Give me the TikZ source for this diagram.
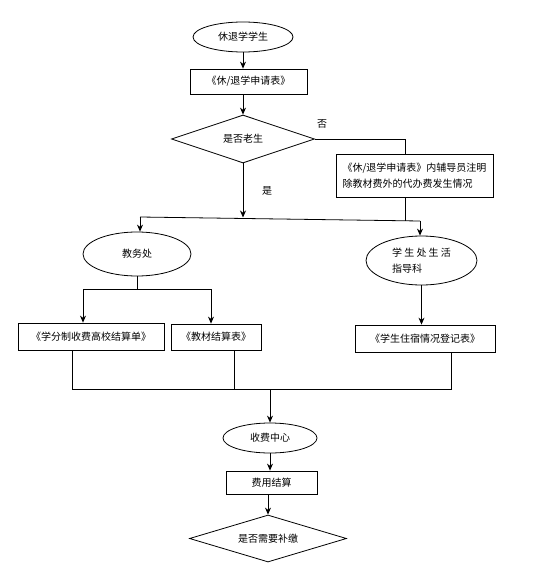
\documentclass[tikz,border=0pt]{standalone}
\usepackage{fontspec}
\newfontfamily\cjk{Noto Sans CJK SC}
\usetikzlibrary{shapes.geometric,arrows.meta}

\begin{document}
\begin{tikzpicture}[x=1pt, y=-1pt, line width=0.8pt, >={Stealth[length=7pt,width=6pt]},
    every node/.style={font=\cjk\fontsize{10}{16}\selectfont, inner sep=0pt},
    oval/.style={draw, ellipse},
    sheet/.style={draw, rectangle},
    ask/.style={draw, diamond, aspect=3}]

    \useasboundingbox (0,0) rectangle (539,572);

    % top part
    \node [oval, minimum width=100, minimum height=30] (start) at (243,37) {休退学学生};
    \node [sheet, minimum width=117, minimum height=25] (form) at (248.5,81.5) {《休/退学申请表》};
    \node [ask, minimum width=143, minimum height=48] (old) at (243,139) {是否老生};
    \node [sheet, minimum width=157, minimum height=43, align=left] (note) at (414.5,175.5)
        {《休/退学申请表》内辅导员注明\\除教材费外的代办费发生情况};

    % labels yes / no
    \node (no) at (322,124) {否};
    \node (yes) at (267,191) {是};

    % offices
    \node [oval, minimum width=108, minimum height=44] (jwc) at (137,254) {教务处};
    \node [oval, minimum width=111, minimum height=49, align=left] (xsc) at (421.5,260.5)
        {学 生 处 生 活\\指导科};

    % forms
    \node [sheet, minimum width=146, minimum height=27] (box1) at (91,336.5) {《学分制收费高校结算单》};
    \node [sheet, minimum width=90, minimum height=26] (box2) at (216,337) {《教材结算表》};
    \node [sheet, minimum width=140, minimum height=27] (box3) at (425,338.5) {《学生住宿情况登记表》};

    % bottom part
    \node [oval, minimum width=94, minimum height=30] (fee) at (270,438) {收费中心};
    \node [sheet, minimum width=91, minimum height=23] (settle) at (271.5,482.5) {费用结算};
    \node [ask, minimum width=157, minimum height=47] (need) at (268,538.5) {是否需要补缴};

    % joints
    \coordinate (split) at (140,217);
    \coordinate (splitR) at (420,221);
    \coordinate (bl) at (83,289);
    \coordinate (br) at (211,289);
    \coordinate (m1) at (72,389);
    \coordinate (m2) at (234,389);
    \coordinate (m3) at (451,389);
    \coordinate (m0) at (270,389);

    % arrows
    \draw [->] (start.south) -- (start.south |- form.north);
    \draw [->] (old.north |- form.south) -- (old.north);
    \draw (old.east) -| ([xshift=-9.5pt]note.north);
    \draw [->] (old.south) -- (old.south |- 0,217.5);
    \draw ([xshift=-9.5pt]note.south) -- ++(0,23.5);
    \draw (split) -- (splitR);
    \draw [->] (split) -- (split |- jwc.north);
    \draw [->] (splitR) -- (splitR |- xsc.north);

    %% offices to forms
    \draw (jwc.south) -- (jwc.south |- bl);
    \draw (bl) -- (br);
    \draw [->] (bl) -- (bl |- box1.north);
    \draw [->] (br) -- (br |- box2.north);
    \draw [->] (xsc.south) -- (xsc.south |- box3.north);

    %% forms to fee
    \draw (m1 |- box1.south) -- (m1) -- (m3) -- (m3 |- box3.south);
    \draw (m2 |- box2.south) -- (m2);
    \draw [->] (m0) -- (m0 |- fee.north);
    \draw [->] (fee.south) -- (fee.south |- settle.north);
    \draw [->] (need.north |- settle.south) -- (need.north);

\end{tikzpicture}
\end{document}
